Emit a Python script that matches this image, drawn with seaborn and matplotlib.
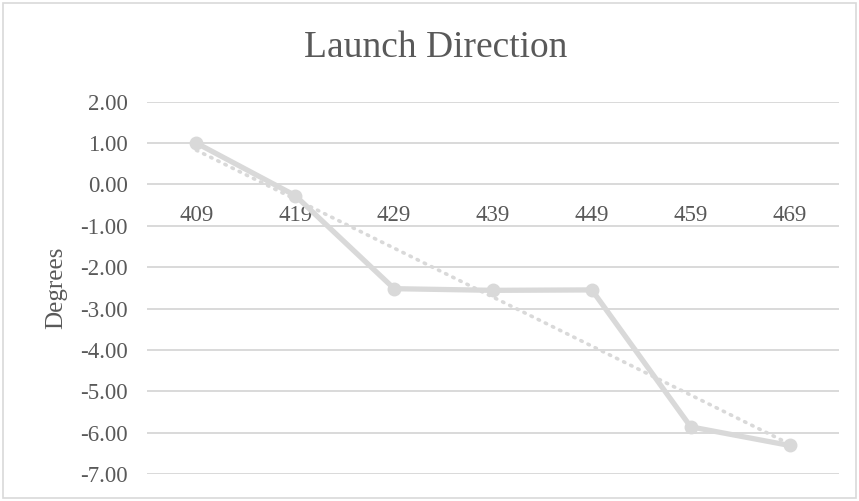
import numpy as np
import matplotlib
matplotlib.use("Agg")
import matplotlib.pyplot as plt
import seaborn as sns
from matplotlib.patches import Rectangle

# data
distances = ["409", "419", "429", "439", "449", "459", "469"]
degrees = [1.00, -0.27, -2.52, -2.56, -2.55, -5.86, -6.31]
y_ticks = [2, 1, 0, -1, -2, -3, -4, -5, -6, -7]

GREY = "#D9D9D9"
TEXT = "#595959"

sns.set_style("white")
plt.rcParams["font.family"] = ["Liberation Serif", "DejaVu Serif"]

fig = plt.figure(figsize=(8.59, 5.01), dpi=100)
ax = fig.add_axes([147 / 859, 1 - 474 / 501, (839 - 147) / 859, (474 - 101.7) / 501])

pos = np.arange(len(distances))

# linear trendline (like Excel's)
slope, intercept = np.polyfit(pos, degrees, 1)
trend_x = np.array([pos[0], pos[-1]])
ax.plot(trend_x, slope * trend_x + intercept, color=GREY, lw=2.6,
        ls=(0, (0.4, 1.8)), dash_capstyle="round", zorder=2)

sns.lineplot(x=pos, y=degrees, ax=ax, color=GREY, lw=3.8, marker="o",
             markersize=10, markeredgewidth=0, zorder=3)

ax.set_ylim(-7, 2)
ax.set_xlim(-0.5, len(distances) - 0.5)
ax.set_yticks(y_ticks)
ax.set_yticklabels([f"{v:.2f}" for v in y_ticks])
ax.set_xticks(pos)
ax.set_xticklabels(distances)
ax.grid(axis="y", color=GREY, lw=1.4)
ax.set_axisbelow(True)

for s in ["top", "right", "left"]:
    ax.spines[s].set_visible(False)
ax.spines["bottom"].set_position(("data", 0))
ax.spines["bottom"].set_visible(False)

ax.tick_params(axis="x", length=0, pad=15, labelsize=16.5, labelcolor=TEXT)
ax.tick_params(axis="y", length=0, pad=14, labelsize=16.5, labelcolor=TEXT)

ax.set_ylabel("Degrees", fontsize=18, color=TEXT)
ax.yaxis.set_label_coords((67 - 147) / (839 - 147), 0.5)

fig.text(0.507, 1 - 48 / 501, "Launch Direction", ha="center", va="center",
         fontsize=27, color=TEXT)

# chart frame
fig.patches.append(Rectangle((0.004, 0.005), 0.992, 0.99, transform=fig.transFigure,
                             fill=False, edgecolor=GREY, lw=1.2))

fig.savefig("out.png", dpi=100)
